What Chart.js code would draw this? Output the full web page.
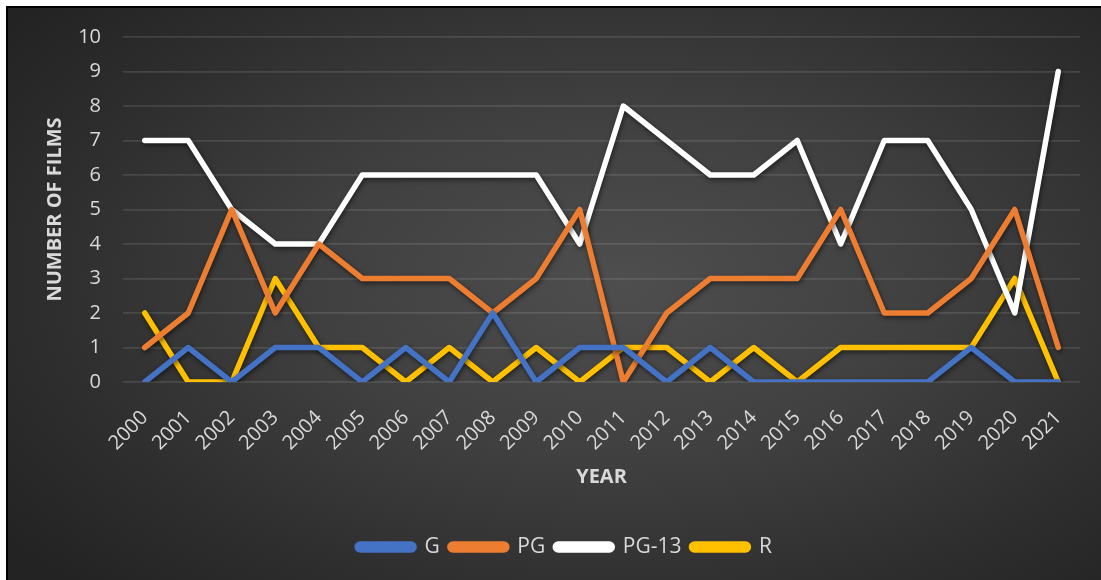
<!DOCTYPE html>
<html>
<head>
<meta charset="utf-8">
<script src="https://cdn.jsdelivr.net/npm/chart.js@4"></script>
<style>
  html, body { margin: 0; padding: 0; background: #fff; width: 1101px; height: 580px; overflow: hidden; }
  #frame {
    position: absolute; left: 6px; top: 6px; width: 1095px; height: 574px;
    border-left: 2px solid #000; border-top: 2px solid #000;
    background: radial-gradient(ellipse 70% 75% at 56% 48%, #4e4e4e 0%, #404040 40%, #2e2e2e 75%, #232323 100%);
  }
  #wrap { position: absolute; left: 0; top: 0; width: 1093px; height: 572px; }
</style>
</head>
<body>
<div id="frame"><div id="wrap"><canvas id="c" width="1093" height="572"></canvas></div></div>
<script>
const years = ["2000","2001","2002","2003","2004","2005","2006","2007","2008","2009","2010","2011","2012","2013","2014","2015","2016","2017","2018","2019","2020","2021"];
const gFilms    = [0,1,0,1,1,0,1,0,2,0,1,1,0,1,0,0,0,0,0,1,0,0];
const pgFilms   = [1,2,5,2,4,3,3,3,2,3,5,0,2,3,3,3,5,2,2,3,5,1];
const pg13Films = [7,7,5,4,4,6,6,6,6,6,4,8,7,6,6,7,4,7,7,5,2,9];
const rFilms    = [2,0,0,3,1,1,0,1,0,1,0,1,1,0,1,0,1,1,1,1,3,0];
const yTicks = [0,1,2,3,4,5,6,7,8,9,10];

const FONT = "'Open Sans', 'Noto Sans', sans-serif";
const TXT = '#d9d9d9';

function ds(label, data, color) {
  return {
    label, data,
    borderColor: color, backgroundColor: color,
    borderWidth: 5.5, pointRadius: 0, pointHoverRadius: 0,
    borderCapStyle: 'round', borderJoinStyle: 'round', tension: 0
  };
}

const shadowPlugin = {
  id: 'shadow',
  beforeDatasetDraw(chart) {
    const ctx = chart.ctx;
    ctx.save();
    ctx.shadowColor = 'rgba(0,0,0,0.55)';
    ctx.shadowBlur = 5;
    ctx.shadowOffsetX = 1;
    ctx.shadowOffsetY = 2;
  },
  afterDatasetDraw(chart) { chart.ctx.restore(); }
};

new Chart(document.getElementById('c'), {
  type: 'line',
  data: {
    labels: years,
    datasets: [
      ds('G', gFilms, '#4472C4'),
      ds('PG', pgFilms, '#ED7D31'),
      ds('PG-13', pg13Films, '#FFFFFF'),
      ds('R', rFilms, '#FFC000')
    ]
  },
  plugins: [shadowPlugin],
  options: {
    responsive: false,
    animation: false,
    events: [],
    layout: { padding: { left: 41, right: 21, top: 29, bottom: 12.5 } },
    plugins: {
      tooltip: { enabled: false },
      legend: {
        position: 'bottom',
        labels: {
          color: TXT,
          font: { family: FONT, size: 21 },
          boxWidth: 57, boxHeight: 6,
          useBorderRadius: true, borderRadius: 3,
          padding: 10
        }
      }
    },
    scales: {
      x: {
        offset: true,
        grid: { display: false, drawTicks: false },
        border: { display: false },
        ticks: {
          color: TXT, font: { family: FONT, size: 20 },
          minRotation: 45, maxRotation: 45, autoSkip: false, padding: 24
        },
        title: {
          display: true, text: 'YEAR', color: TXT,
          font: { family: FONT, size: 20, weight: 'bold' },
          padding: { top: 37.5, bottom: 37.5 }
        },
        afterFit(scale) { scale.height = 144.5; scale.paddingLeft = 0; scale.paddingRight = 0; }
      },
      y: {
        min: 0, max: 10,
        afterBuildTicks(scale) { scale.ticks = yTicks.map(v => ({ value: v })); },
        grid: { color: 'rgba(255,255,255,0.11)', lineWidth: 1.8, drawTicks: false },
        border: { display: false },
        ticks: { color: TXT, font: { family: FONT, size: 20 }, padding: 22 },
        title: {
          display: true, text: 'NUMBER OF FILMS', color: TXT,
          font: { family: FONT, size: 20, weight: 'bold' },
          padding: { top: -6, bottom: 0 }
        },
        afterFit(scale) { scale.width = 74; scale.paddingTop = 0; scale.paddingBottom = 0; }
      }
    }
  }
});
</script>
</body>
</html>
